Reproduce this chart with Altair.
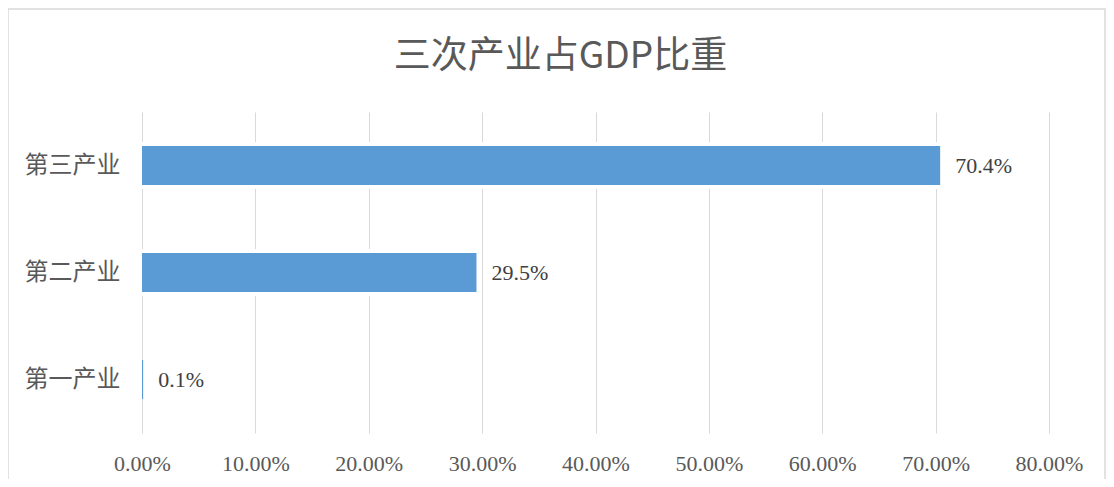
import altair as alt
import pandas as pd

categories = ["第三产业", "第二产业", "第一产业"]
values = [70.4, 29.5, 0.1]
labels = ["70.4%", "29.5%", "0.1%"]
x_ticks = [0, 10, 20, 30, 40, 50, 60, 70, 80]

df = pd.DataFrame({"cat": categories, "val": values, "lab": labels})

W, H = 907, 321

y_enc = alt.Y("cat:N", sort=categories, title=None,
              scale=alt.Scale(paddingInner=0.636, paddingOuter=0.318),
              axis=alt.Axis(labelFont="Liberation Serif, Noto Sans CJK SC", labelFontSize=24,
                            labelColor="#595959", labelPadding=22, ticks=False,
                            domain=False, grid=False))
x_enc = alt.X("val:Q", title=None,
              scale=alt.Scale(domain=[0, 80], nice=False),
              axis=alt.Axis(values=x_ticks, labelExpr="format(datum.value, '.2f') + '%'",
                            labelFont="Liberation Serif", labelFontSize=22, labelFlush=False,
                            labelColor="#595959", labelPadding=20, ticks=False,
                            domain=False, grid=True, gridColor="#d9d9d9", gridWidth=1))

base = alt.Chart(df)

border = base.mark_rect(fillOpacity=0, stroke="#d9d9d9", strokeWidth=1.5, clip=False).encode(
    x=alt.value(-134), x2=alt.value(963), y=alt.value(-103), y2=alt.value(385)
).transform_filter("datum.cat == '第三产业'")

halo = base.mark_bar(color="white", stroke="white", strokeWidth=8).encode(
    x=x_enc, y=y_enc,
    strokeOpacity=alt.condition("datum.val > 1", alt.value(1), alt.value(0)),
)
bars = base.mark_bar(color="#5B9BD5").encode(x=x_enc, y=y_enc)
text = base.mark_text(align="left", baseline="middle", dx=15, font="Liberation Serif",
                      fontSize=22, color="#404040").encode(x=x_enc, y=y_enc, text="lab:N")

chart = alt.layer(border, halo, bars, text).properties(
    width=W, height=H,
    background="white",
    title=alt.TitleParams("三次产业占GDP比重", font="Noto Sans CJK SC", fontSize=37,
                          fontWeight="normal", color="#595959", anchor="middle",
                          dx=-35, offset=-68),
    autosize=alt.AutoSizeParams(type="none"),
    padding={"left": 134, "top": 104, "right": 57, "bottom": 46},
).configure_view(stroke=None)

chart.save("out.html", embed_options={"renderer": "svg", "actions": False})
